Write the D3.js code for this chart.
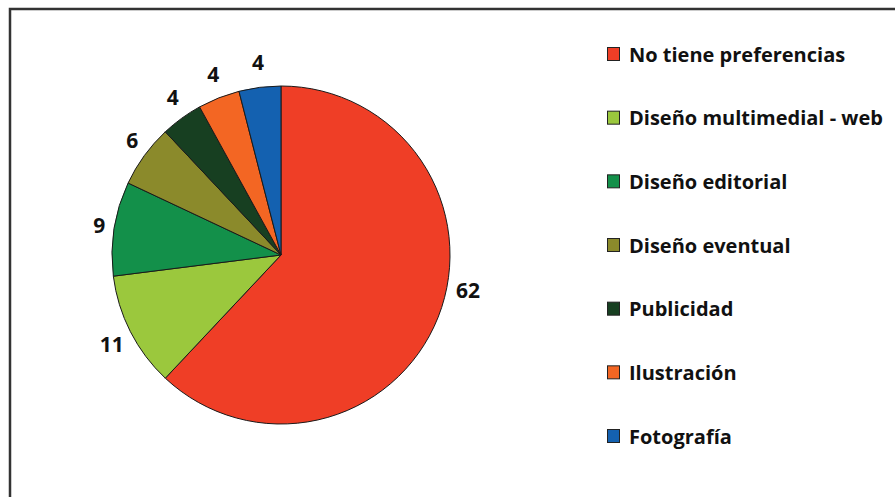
<!DOCTYPE html>
<html><head><meta charset="utf-8">
<script src="https://cdn.jsdelivr.net/npm/d3@7"></script>
<style>html,body{margin:0;padding:0;background:#fff;}svg{display:block;}</style>
</head><body>
<svg id="c" width="895" height="497"></svg>
<script>
const categories = ["No tiene preferencias","Diseño multimedial - web","Diseño editorial","Diseño eventual","Publicidad","Ilustración","Fotografía"];
const values = [62, 11, 9, 6, 4, 4, 4];
const colors = ["#EF3E26","#9BC83D","#13904A","#8B8A2B","#173F21","#F36623","#1461B0"];

const svg = d3.select("#c");
const W = 895, H = 497;
const FONT = "'Open Sans', sans-serif";
// frame
svg.append("path").attr("d", `M${W+5},9 L10,9 L10,${H+5}`)
  .attr("fill","none").attr("stroke","#333").attr("stroke-width",2.5);

const cx = 281, cy = 255, R = 169;
const g = svg.append("g").attr("transform", `translate(${cx},${cy})`);
const pie = d3.pie().value(d => d).sort(null);
const arcs = pie(values);
const arc = d3.arc().innerRadius(0).outerRadius(R);
g.selectAll("path.s").data(arcs).enter().append("path")
  .attr("class","s").attr("d", arc)
  .attr("fill", (d,i) => colors[i]).attr("stroke","#1a1a1a").attr("stroke-width",1);

const gap = 9, halfH = 17;
const angleAdjust = i => i === 0 ? -0.197 : 0; // big slice label pulled up as in reference
const labels = g.selectAll("text.l").data(arcs).enter().append("text")
  .attr("class","l")
  .attr("text-anchor","middle").attr("dominant-baseline","central")
  .attr("font-family",FONT).attr("font-weight","bold").attr("font-size",21)
  .attr("fill","#111").text(d => d.data);
labels.each(function(d,i){
  const a = (d.startAngle+d.endAngle)/2 + angleAdjust(i);
  const w = this.getComputedTextLength();
  d3.select(this)
    .attr("x", (R+gap+w/2) * Math.sin(a))
    .attr("y", -(R+gap+halfH) * Math.cos(a));
});

// legend
const ly = d3.scalePoint().domain(categories).range([54, 436]);
const lg = svg.append("g");
const items = lg.selectAll("g").data(categories).enter().append("g")
  .attr("transform", d => `translate(607,${ly(d)})`);
items.append("rect").attr("x",0.5).attr("y",-6.5).attr("width",12).attr("height",13)
  .attr("fill",(d,i)=>colors[i]).attr("stroke","#222").attr("stroke-width",1);
items.append("text").attr("x",22).attr("y",0).attr("dominant-baseline","central")
  .attr("font-family",FONT).attr("font-weight","bold").attr("font-size",20)
  .attr("fill","#111").text(d => d);
</script>
</body></html>
